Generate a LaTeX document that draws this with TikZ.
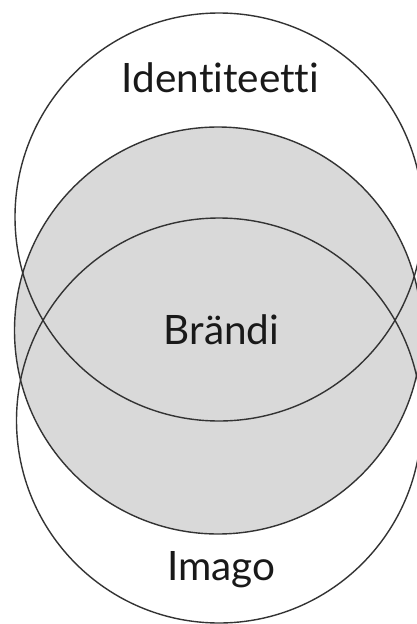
\documentclass[tikz,border=0pt]{standalone}
\usepackage{fontspec}
\setmainfont{Lato}[Ligatures=NoCommon]
\begin{document}
\begin{tikzpicture}[x=1pt,y=-1pt,
  ring/.style={circle, draw=black!80, line width=1.4pt, inner sep=0pt},
  lbl/.style={anchor=base, inner sep=0pt, font=\fontsize{40.5}{40.5}\selectfont, text=black!90}]
\useasboundingbox (0,0) rectangle (417,624);
\clip (0,0) rectangle (417,624);
\fill[white] (0,0) rectangle (417,624);
\node[ring, fill={rgb,255:red,217;green,217;blue,217}, minimum size=407pt] (brand) at (218,330.5) {};
\node[ring, minimum size=408pt] (ident) at (219,217) {};
\node[ring, minimum size=405pt] (imago) at (219,420.5) {};
\node[lbl] (tident) at (220.5,92) {Identiteetti};
\node[lbl] (tbrand) at (221.5,344) {Brändi};
\node[lbl] (timago) at (221.5,580) {Imago};
\end{tikzpicture}
\end{document}
